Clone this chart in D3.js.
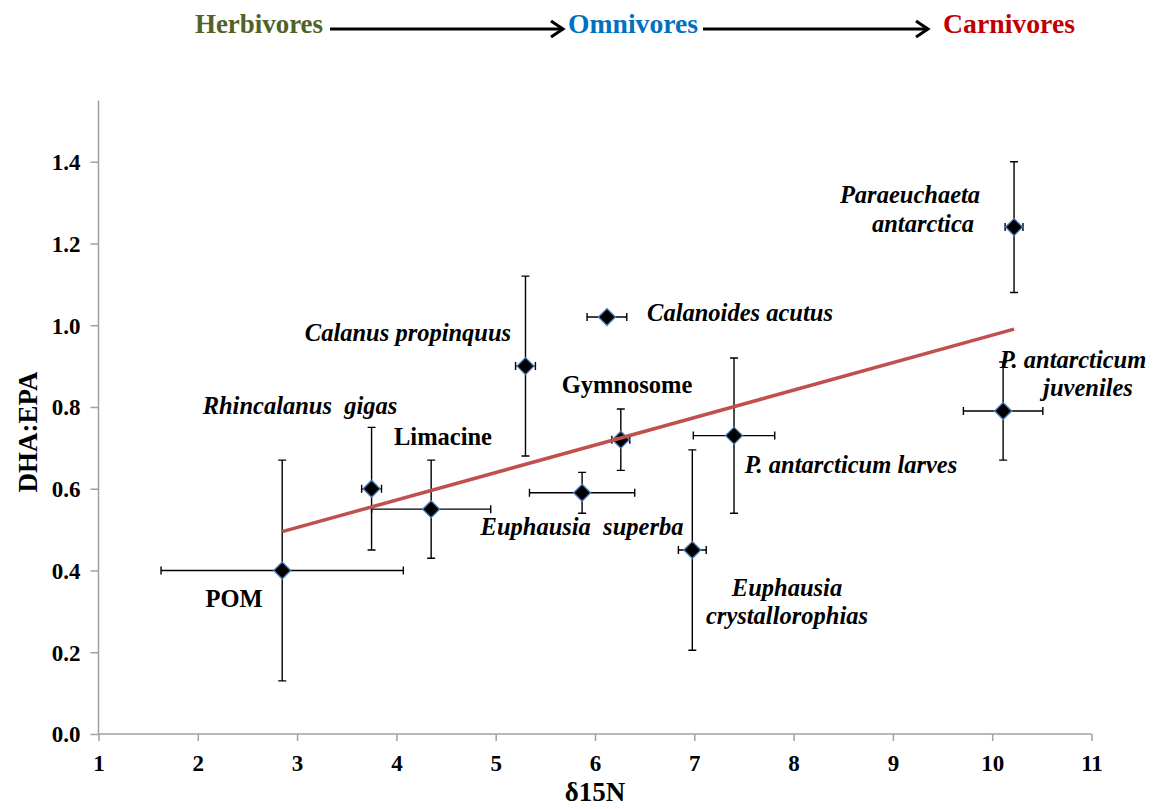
<!DOCTYPE html>
<html>
<head>
<meta charset="utf-8">
<script src="https://cdn.jsdelivr.net/npm/d3@7"></script>
<style>
  html, body { margin: 0; padding: 0; background: #fff; }
  svg { display: block; }
  text { font-family: "Liberation Serif", "Times New Roman", serif; font-weight: bold; white-space: pre; }
</style>
</head>
<body>
<svg id="chart" width="1175" height="809"></svg>
<script>
// Taxa, trophic position (δ15N) and DHA:EPA ratio, with standard deviations
const taxa = ["POM", "Rhincalanus gigas", "Limacine", "Calanus propinquus", "Calanoides acutus",
  "Gymnosome", "Euphausia superba", "P. antarcticum larves", "Euphausia crystallorophias",
  "Paraeuchaeta antarctica", "P. antarcticum juveniles"];
const d15N    = [2.85, 3.75, 4.35, 5.30, 6.12, 6.26, 5.87, 7.40, 6.98, 10.22, 10.11];
const dhaEpa  = [0.40, 0.60, 0.55, 0.90, 1.02, 0.72, 0.59, 0.73, 0.45, 1.24, 0.79];
const d15NSd  = [1.22, 0.10, 0.60, 0.10, 0.20, 0.09, 0.53, 0.41, 0.14, 0.09, 0.40];
const dhaEpaSd= [0.27, 0.15, 0.12, 0.22, 0.00, 0.075, 0.05, 0.19, 0.245, 0.16, 0.12];

// Label lines drawn next to each point (italic for species names)
const labelLines = [["POM"], ["Rhincalanus  gigas"], ["Limacine"], ["Calanus propinquus"],
  ["Calanoides acutus"], ["Gymnosome"], ["Euphausia  superba"], ["P. antarcticum larves"],
  ["Euphausia", "crystallorophias"], ["Paraeuchaeta", "antarctica"], ["P. antarcticum", "juveniles"]];
const labelItalic = [false, true, false, true, true, false, true, true, true, true, true];

const xTicks = [1, 2, 3, 4, 5, 6, 7, 8, 9, 10, 11];
const yTicks = [0, 0.2, 0.4, 0.6, 0.8, 1.0, 1.2, 1.4];

const trophicLevels = ["Herbivores", "Omnivores", "Carnivores"];

// ---- layout ----
const svg = d3.select("#chart");
const x = d3.scaleLinear().domain([1, 11]).range([98.5, 1091.5]);
const y = d3.scaleLinear().domain([0, 1.55]).range([734, 100.4]);

// label placement: [centre x, baseline y] per line, in pixels
const labelPos = [
  [[234, 607]], [[300, 414]], [[443, 445]], [[408, 341]], [[740, 321]], [[627, 393]],
  [[582, 535]], [[851, 473]], [[787, 596], [787, 624]], [[910, 203], [923, 232]],
  [[1073, 368], [1088, 396]]
];

const axisColor = "#a0a0a0";

// Y axis
const yAxis = svg.append("g").attr("transform", `translate(${x(1)},0)`)
  .call(d3.axisLeft(y).tickValues(yTicks).tickFormat(d3.format(".1f")).tickSize(8).tickPadding(10));
yAxis.select(".domain").attr("stroke", axisColor).attr("stroke-width", 1.5)
  .attr("d", `M0,${y(1.55)}V${y(0)}`);
yAxis.selectAll(".tick line").attr("stroke", axisColor).attr("stroke-width", 1.5);
yAxis.selectAll(".tick text").attr("fill", "#000").style("font-size", "23px")
  .style("font-family", "'Liberation Serif', serif").style("font-weight", "bold").attr("dy", "0.34em");

// X axis
const xAxis = svg.append("g").attr("transform", `translate(0,${y(0)})`)
  .call(d3.axisBottom(x).tickValues(xTicks).tickFormat(d3.format("d")).tickSize(7).tickPadding(14));
xAxis.select(".domain").attr("stroke", axisColor).attr("stroke-width", 1.5)
  .attr("d", `M${x(1)},0H${x(11)}`);
xAxis.selectAll(".tick line").attr("stroke", axisColor).attr("stroke-width", 1.5);
xAxis.selectAll(".tick text").attr("fill", "#000").style("font-size", "23px")
  .style("font-family", "'Liberation Serif', serif").style("font-weight", "bold").attr("dy", "0.71em");

// Axis titles
svg.append("text").attr("x", 595).attr("y", 801).attr("text-anchor", "middle")
  .style("font-size", "27px").text("δ15N");
svg.append("text").attr("transform", `translate(37,${432}) rotate(-90)`).attr("text-anchor", "middle")
  .style("font-size", "27px").text("DHA:EPA");

// Data points
const pts = taxa.map((t, i) => ({ name: t, x: d15N[i], y: dhaEpa[i], sx: d15NSd[i], sy: dhaEpaSd[i],
  lines: labelLines[i], italic: labelItalic[i], pos: labelPos[i] }));

// Error bars
const cap = 4;
const eb = svg.append("g").attr("stroke", "#000").attr("stroke-width", 1.4).attr("fill", "none");
pts.forEach(p => {
  if (p.sy > 0) {
    const y1 = y(p.y + p.sy), y2 = y(p.y - p.sy), cx = x(p.x);
    eb.append("path").attr("d",
      `M${cx},${y1}V${y2}M${cx - cap},${y1}H${cx + cap}M${cx - cap},${y2}H${cx + cap}`);
  }
  if (p.sx > 0) {
    const x1 = x(p.x - p.sx), x2 = x(p.x + p.sx), cy = y(p.y);
    eb.append("path").attr("d",
      `M${x1},${cy}H${x2}M${x1},${cy - cap}V${cy + cap}M${x2},${cy - cap}V${cy + cap}`);
  }
});

// Diamond markers
const r = 8.5;
svg.append("g").selectAll("path.marker").data(pts).join("path")
  .attr("class", "marker")
  .attr("d", `M0,${-r}L${r},0L0,${r}L${-r},0Z`)
  .attr("transform", d => `translate(${x(d.x)},${y(d.y)})`)
  .attr("fill", "#000").attr("stroke", "#4f81bd").attr("stroke-width", 1.3);

// Linear trend (least squares)
const mx = d3.mean(d15N), my = d3.mean(dhaEpa);
const slope = d3.sum(d15N, (v, i) => (v - mx) * (dhaEpa[i] - my)) / d3.sum(d15N, v => (v - mx) ** 2);
const icpt = my - slope * mx;
const [xmin, xmax] = d3.extent(d15N);
svg.append("line")
  .attr("x1", x(xmin)).attr("y1", y(icpt + slope * xmin))
  .attr("x2", x(xmax)).attr("y2", y(icpt + slope * xmax))
  .attr("stroke", "#c0504d").attr("stroke-width", 3.5);

// Point labels
const lg = svg.append("g");
pts.forEach(p => {
  p.lines.forEach((line, j) => {
    lg.append("text").attr("x", p.pos[j][0]).attr("y", p.pos[j][1])
      .attr("text-anchor", "middle")
      .style("font-size", "24.5px")
      .style("font-style", p.italic ? "italic" : "normal")
      .text(line);
  });
});

// Trophic gradient header
const headerColors = ["#4f6228", "#0070c0", "#c00000"];
const headerX = [[195, 323], [568, 698], [943, 1075]];
const head = svg.append("g");
trophicLevels.forEach((t, i) => {
  head.append("text").attr("x", headerX[i][0]).attr("y", 33)
    .attr("textLength", headerX[i][1] - headerX[i][0]).attr("lengthAdjust", "spacingAndGlyphs")
    .style("font-size", "28px").attr("fill", headerColors[i]).text(t);
});
const arrows = [[330, 563], [703, 928]];
arrows.forEach(([a, b]) => {
  head.append("path").attr("d", `M${a},29H${b}`).attr("stroke", "#000").attr("stroke-width", 3)
    .attr("fill", "none");
  head.append("path").attr("d", `M${b - 12},21L${b},29L${b - 12},37`)
    .attr("stroke", "#000").attr("stroke-width", 3).attr("fill", "none")
    .attr("stroke-linejoin", "miter");
});
</script>
</body>
</html>
